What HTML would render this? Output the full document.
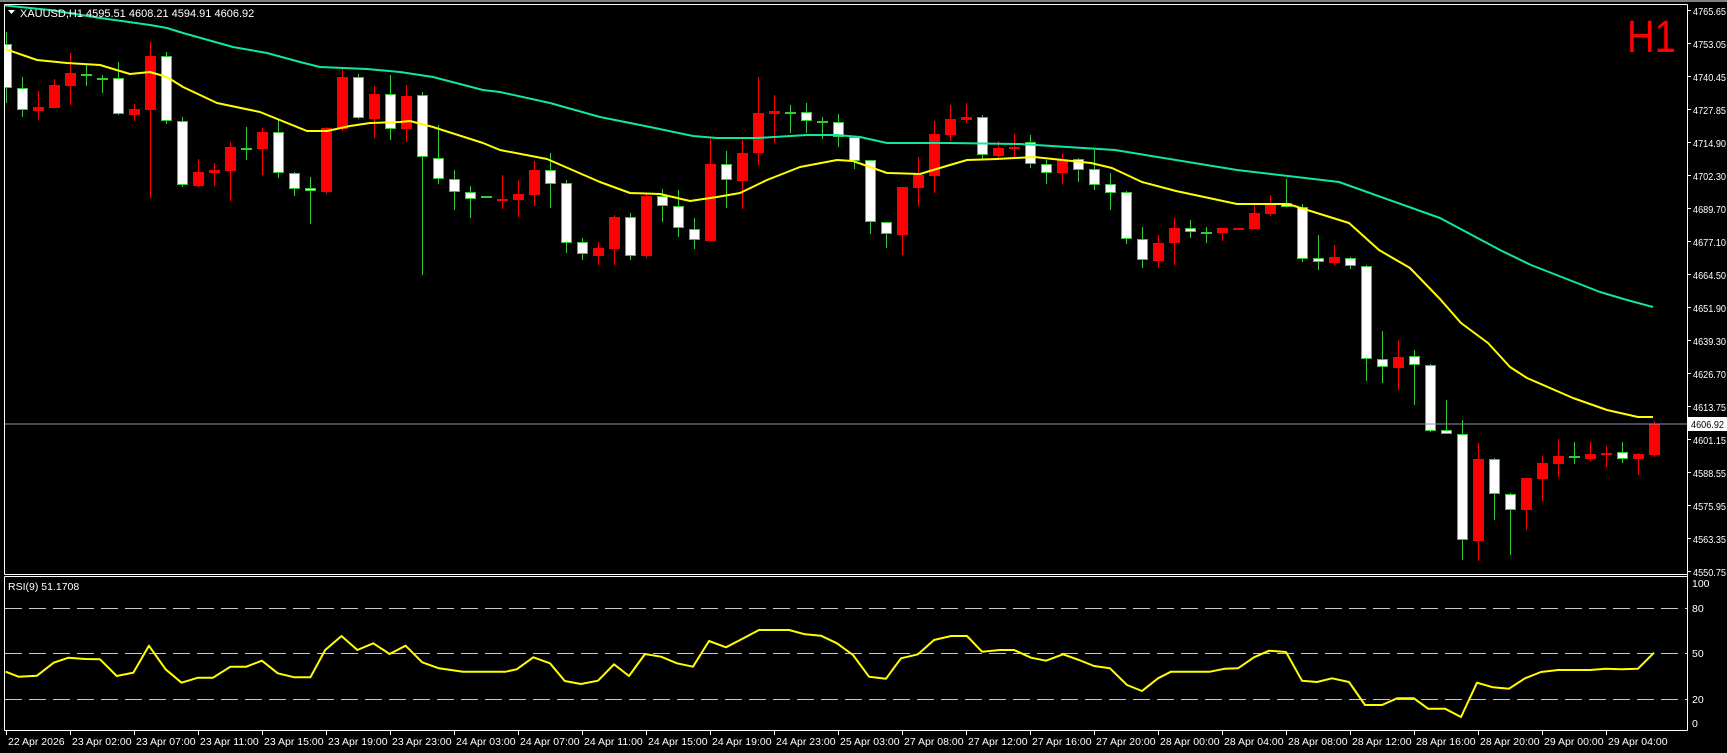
<!DOCTYPE html>
<html><head><meta charset="utf-8"><style>
html,body{margin:0;padding:0;background:#000;width:1727px;height:753px;overflow:hidden}
svg{display:block}
text{font-family:"Liberation Sans",sans-serif;fill:#fff}
</style></head><body>
<svg id="s" width="1727" height="753" viewBox="0 0 1727 753" xmlns="http://www.w3.org/2000/svg">
<rect x="0" y="0" width="1727" height="753" fill="#000"/>
<rect x="0" y="0" width="1727" height="2" fill="#808080"/>
<defs><clipPath id="cm"><rect x="5" y="5" width="1682" height="569"/></clipPath>
<clipPath id="cr"><rect x="5" y="577" width="1682" height="153"/></clipPath></defs>
<g id="candles" clip-path="url(#cm)"></g>
<line x1="5" y1="424" x2="1687" y2="424" stroke="#8a96a8" stroke-width="1"/>
<g clip-path="url(#cm)" fill="none" stroke-width="2" stroke-linejoin="round">
<polyline stroke="#10e8a0" points="0,5 50,10 100,18 150,25 167,28 183,33 233,47 267,53 300,62 320,67 367,69 400,72 433,77 483,90 500,92 550,103 600,117 650,127 693,136 717,138 757,138 807,135 837,135 860,137 887,143 950,143 1020,144 1115,150 1237,170 1339,182 1440,218 1500,250 1531,265 1600,292 1627,300 1653,307"/>
<polyline stroke="#ffff00" points="5,49 37,60 67,63 100,65 130,74 150,72 167,77 183,87 217,103 260,112 307,131 327,131 350,126 370,123 400,122 410,121 433,127 483,143 500,150 547,159 600,182 630,193 660,194 690,201 717,197 740,193 767,180 800,167 837,160 853,161 887,173 920,174 933,170 967,160 997,159 1034,157 1091,163 1112,168 1142,182 1176,191 1237,204 1288,204 1349,223 1379,250 1410,268 1440,299 1461,323 1488,343 1510,367 1527,378 1573,398 1607,410 1638,417 1653,417"/>
</g>
<g stroke="#fff" stroke-width="1" fill="none">
<line x1="4.5" y1="4.5" x2="1687.5" y2="4.5"/>
<line x1="4.5" y1="4.5" x2="4.5" y2="574.5"/>
<line x1="4.5" y1="574.5" x2="1687.5" y2="574.5"/>
<line x1="4.5" y1="576.5" x2="1687.5" y2="576.5"/>
<line x1="4.5" y1="576.5" x2="4.5" y2="730.5"/>
<line x1="4.5" y1="730.5" x2="1687.5" y2="730.5"/>
<line x1="1687.5" y1="4.5" x2="1687.5" y2="730.5"/>
</g>
<polygon points="8,10 15,10 11.5,14" fill="#fff"/>
<text x="20" y="17" font-size="11">XAUUSD,H1  4595.51 4608.21 4594.91 4606.92</text>
<text x="1627" y="52" font-size="45" style="fill:#ff0000" textLength="49" lengthAdjust="spacingAndGlyphs">H1</text>
<g font-size="10.5">
<text x="1693" y="15" textLength="33" lengthAdjust="spacingAndGlyphs">4765.65</text>
<text x="1693" y="48" textLength="33" lengthAdjust="spacingAndGlyphs">4753.05</text>
<text x="1693" y="81" textLength="33" lengthAdjust="spacingAndGlyphs">4740.45</text>
<text x="1693" y="114" textLength="33" lengthAdjust="spacingAndGlyphs">4727.85</text>
<text x="1693" y="147" textLength="33" lengthAdjust="spacingAndGlyphs">4714.90</text>
<text x="1693" y="180" textLength="33" lengthAdjust="spacingAndGlyphs">4702.30</text>
<text x="1693" y="213" textLength="33" lengthAdjust="spacingAndGlyphs">4689.70</text>
<text x="1693" y="246" textLength="33" lengthAdjust="spacingAndGlyphs">4677.10</text>
<text x="1693" y="279" textLength="33" lengthAdjust="spacingAndGlyphs">4664.50</text>
<text x="1693" y="312" textLength="33" lengthAdjust="spacingAndGlyphs">4651.90</text>
<text x="1693" y="345" textLength="33" lengthAdjust="spacingAndGlyphs">4639.30</text>
<text x="1693" y="378" textLength="33" lengthAdjust="spacingAndGlyphs">4626.70</text>
<text x="1693" y="411" textLength="33" lengthAdjust="spacingAndGlyphs">4613.75</text>
<text x="1693" y="444" textLength="33" lengthAdjust="spacingAndGlyphs">4601.15</text>
<text x="1693" y="477" textLength="33" lengthAdjust="spacingAndGlyphs">4588.55</text>
<text x="1693" y="510" textLength="33" lengthAdjust="spacingAndGlyphs">4575.95</text>
<text x="1693" y="543" textLength="33" lengthAdjust="spacingAndGlyphs">4563.35</text>
<text x="1693" y="576" textLength="33" lengthAdjust="spacingAndGlyphs">4550.75</text>
</g>
<rect x="1688" y="417" width="39" height="14" fill="#fff"/>
<text x="1691" y="428" font-size="10.5" style="fill:#000" textLength="33" lengthAdjust="spacingAndGlyphs">4606.92</text>
<g stroke="#c8c8c8" stroke-width="1" stroke-dasharray="17 7">
<line x1="5" y1="608.5" x2="1687" y2="608.5"/>
<line x1="5" y1="653.5" x2="1687" y2="653.5"/>
<line x1="5" y1="699.5" x2="1687" y2="699.5"/>
</g>
<text x="8" y="590" font-size="10.5">RSI(9) 51.1708</text>
<g font-size="10.5">
<text x="1692" y="587">100</text>
<text x="1692" y="612">80</text>
<text x="1692" y="657">50</text>
<text x="1692" y="703">20</text>
<text x="1692" y="727">0</text>
</g>
<polyline clip-path="url(#cr)" fill="none" stroke="#ffff00" stroke-width="2" stroke-linejoin="round" points="5.6,671.7 18.5,676.7 37,675.7 53.7,662.7 68.5,657.7 85,659 100,659.3 116.7,676 133.3,672.7 148.9,645.7 165.6,669.3 181.5,682.7 198,677.7 213,677.7 230.4,666.7 246.3,666.7 261.9,660.7 277.8,673.3 294.4,677.3 310.4,677.3 325.2,650 341.5,636 357.4,650 373.3,643.3 389.6,654 405.6,645.7 422.2,662.3 438.9,668.3 463,671.7 505.6,671.7 516.7,669.3 533.3,657.3 550,663.3 564.8,681 581,684 598,680.7 614,664.3 629,676 645,654 661,656.7 677,663.3 693,666.7 709,641 726,647.3 742,639 759,630 789,630 805,634.3 821,635.7 837,643.3 853,655 869,676.7 886,678.7 901,658.3 918,654.3 934,640 951,636 967,636 982,651.7 1000,650 1014,650 1031,657.7 1046,660.7 1063,654.3 1079,660 1094,666 1110,668.3 1127,685 1142,691 1158,678.3 1171,671.7 1210,671.7 1225,668.7 1238,668.3 1254,657.3 1269,650.7 1286,652 1302,680.7 1317,682 1332,678.3 1349,682 1365,705 1382,705 1397,698.3 1414,698.3 1428,708.7 1445,708.7 1461,717 1477,682.7 1493,687.3 1509,688.7 1525,678.3 1541,672 1558,670 1590,670 1606,668.7 1621,669.3 1638,668.7 1654,652.7"/>
<g id="ticks" stroke="#fff" stroke-width="1"></g>
<g font-size="10.5">
<text x="8" y="745">22 Apr 2026</text>
<text x="72" y="745">23 Apr 02:00</text>
<text x="136" y="745">23 Apr 07:00</text>
<text x="200" y="745">23 Apr 11:00</text>
<text x="264" y="745">23 Apr 15:00</text>
<text x="328" y="745">23 Apr 19:00</text>
<text x="392" y="745">23 Apr 23:00</text>
<text x="456" y="745">24 Apr 03:00</text>
<text x="520" y="745">24 Apr 07:00</text>
<text x="584" y="745">24 Apr 11:00</text>
<text x="648" y="745">24 Apr 15:00</text>
<text x="712" y="745">24 Apr 19:00</text>
<text x="776" y="745">24 Apr 23:00</text>
<text x="840" y="745">25 Apr 03:00</text>
<text x="904" y="745">27 Apr 08:00</text>
<text x="968" y="745">27 Apr 12:00</text>
<text x="1032" y="745">27 Apr 16:00</text>
<text x="1096" y="745">27 Apr 20:00</text>
<text x="1160" y="745">28 Apr 00:00</text>
<text x="1224" y="745">28 Apr 04:00</text>
<text x="1288" y="745">28 Apr 08:00</text>
<text x="1352" y="745">28 Apr 12:00</text>
<text x="1416" y="745">28 Apr 16:00</text>
<text x="1480" y="745">28 Apr 20:00</text>
<text x="1544" y="745">29 Apr 00:00</text>
<text x="1608" y="745">29 Apr 04:00</text>
</g>
</svg>
<script>
var D=[
['w',44,88,32,103],['w',88,110,77,117],['r',107,111,91,120],['r',85,108,79,108],['r',73,86,53,105],
['w',74,76,65,86],['g',78,78,75,93],['w',78,114,62,115],['r',109,115,104,121],['r',56,110,42,198],
['w',56,121,52,124],['w',121,185,117,187],['r',172,186,159,187],['r',170,173,163,186],['r',147,171,142,201],
['g',148,148,127,160],['r',132,149,128,175],['w',132,173,119,178],['w',173,189,172,196],['w',188,191,177,224],
['r',128,192,127,194],['r',77,129,69,131],['w',77,118,74,119],['r',94,119,86,138],['w',94,129,75,140],
['r',96,129,85,142],['w',95,157,92,275],['w',158,179,125,184],['w',179,192,170,210],['w',192,199,186,218],
['g',196,196,196,196],['r',199,201,175,209],['r',194,200,180,217],['r',170,195,161,206],['w',170,184,153,208],
['w',183,243,180,253],['w',242,254,238,260],['r',248,256,242,265],['r',217,249,215,265],['w',217,256,213,260],
['r',196,256,194,258],['w',196,206,189,222],['w',206,228,190,237],['w',229,240,218,249],['r',164,241,137,241],
['w',164,180,151,208],['r',153,181,138,209],['r',113,153,77,165],['r',111,114,95,143],['g',112,112,105,133],
['w',112,121,103,133],['w',121,123,117,139],['w',122,137,114,147],['w',137,161,136,169],['w',160,222,160,234],
['w',222,234,222,248],['r',187,235,187,255],['r',175,188,157,206],['r',134,176,121,193],['r',119,135,105,141],
['r',117,120,103,123],['w',117,155,115,159],['r',148,156,141,159],['r',147,149,134,157],['w',142,164,135,168],
['w',164,173,160,184],['r',160,173,154,184],['w',159,170,158,182],['w',169,185,150,190],['w',184,193,173,210],
['w',192,239,191,244],['w',239,260,227,268],['r',243,261,235,268],['r',228,243,218,265],['w',228,232,220,238],
['g',232,232,227,243],['r',228,233,228,241],['r',228,229,228,229],['r',213,229,205,229],['r',203,214,195,216],
['w',203,207,179,207],['w',207,259,204,262],['w',258,262,235,270],['r',257,263,245,265],['w',258,266,257,269],
['w',266,359,265,381],['w',359,367,331,383],['r',357,368,340,390],['w',356,365,350,405],['w',365,431,364,432],
['w',430,434,400,434],['w',434,540,420,560],['r',459,541,443,561],['w',459,494,458,520],['w',494,510,493,555],
['r',478,510,478,530],['r',463,479,456,501],['r',456,464,439,477],['w',456,458,442,464],['r',454,459,442,461],
['r',453,455,446,467],['w',452,459,442,463],['r',454,459,453,475],['r',424,455,421,457]];
var g=document.getElementById('candles'),h='';
var GR='#32cd32',RD='#ff0000';
for(var i=0;i<D.length;i++){var d=D[i],c=6+16*i,t=d[0];
 var col=(t=='r')?RD:GR;
 h+='<line x1="'+(c+0.5)+'" y1="'+d[3]+'" x2="'+(c+0.5)+'" y2="'+d[4]+'" stroke="'+col+'" stroke-width="1"/>';
 if(t=='g'){h+='<rect x="'+(c-5)+'" y="'+d[1]+'" width="11" height="2" fill="'+GR+'"/>';}
 else if(t=='r'){var hh=Math.max(2,d[2]-d[1]);h+='<rect x="'+(c-5)+'" y="'+d[1]+'" width="11" height="'+hh+'" fill="'+RD+'"/>';}
 else{var hh=Math.max(2,d[2]-d[1]);h+='<rect x="'+(c-4.5)+'" y="'+(d[1]+0.5)+'" width="10" height="'+(hh-1<1?1:hh-1)+'" fill="#fff" stroke="'+GR+'" stroke-width="1"/>';}
}
g.innerHTML=h;
var tk='';for(var k=0;k<26;k++){var x=6.5+64*k;tk+='<line x1="'+x+'" y1="731" x2="'+x+'" y2="735"/>';}
for(var k=0;k<18;k++){var y=10.5+33*k;tk+='<line x1="1688" y1="'+y+'" x2="1691" y2="'+y+'"/>';}
document.getElementById('ticks').innerHTML=tk;
</script>
</body></html>
